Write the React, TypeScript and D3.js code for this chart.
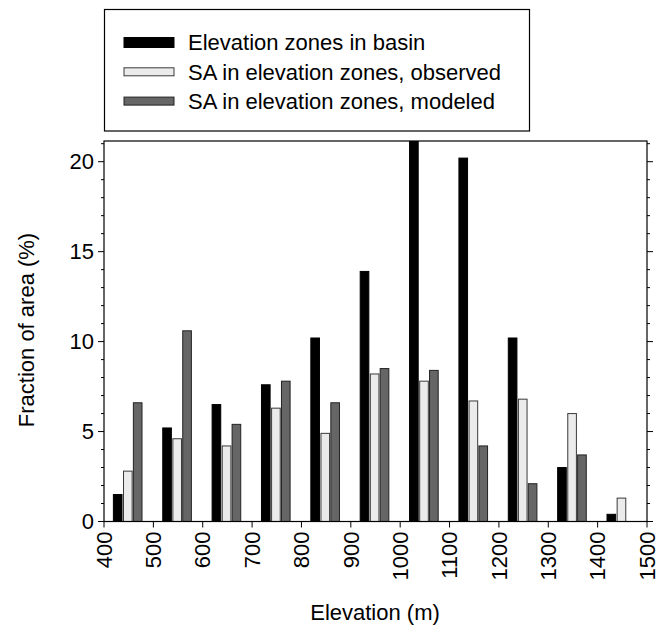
import React from "react";
import * as d3 from "d3";

const binStarts = [400, 500, 600, 700, 800, 900, 1000, 1100, 1200, 1300, 1400];
const basin = [1.5, 5.2, 6.5, 7.6, 10.2, 13.9, 21.4, 20.2, 10.2, 3.0, 0.4];
const observed = [2.8, 4.6, 4.2, 6.3, 4.9, 8.2, 7.8, 6.7, 6.8, 6.0, 1.3];
const modeled = [6.6, 10.6, 5.4, 7.8, 6.6, 8.5, 8.4, 4.2, 2.1, 3.7, 0];
const xTicks = [400, 500, 600, 700, 800, 900, 1000, 1100, 1200, 1300, 1400, 1500];
const yTicks = [0, 5, 10, 15, 20];
const seriesNames = [
  "Elevation zones in basin",
  "SA in elevation zones, observed",
  "SA in elevation zones, modeled",
];

const W = 666, H = 627;
const L = 104, R = 647, T = 141, B = 521.5;
const font = "Liberation Sans, Arial, sans-serif";

const styles = [
  { fill: "#000000", stroke: "#000000" },
  { fill: "#ebebeb", stroke: "#3a3a3a" },
  { fill: "#666666", stroke: "#222222" },
];

export default function App() {
  const x = d3.scaleLinear().domain([400, 1500]).range([L, R]);
  const y = d3.scaleLinear().domain([0, 21.15]).range([B, T]);
  const series = [basin, observed, modeled];
  const offsets = [19, 39.5, 59.5];
  const bw = 17.5;
  const minor = d3.range(0, 22);

  return (
    <svg width={W} height={H} style={{ position: "absolute", left: 0, top: 0 }} fontFamily={font}>
      <defs>
        <clipPath id="plotclip">
          <rect x={L} y={T} width={R - L} height={B - T} />
        </clipPath>
      </defs>
      <rect x={0} y={0} width={W} height={H} fill="#fff" />
      <g clipPath="url(#plotclip)">
        {series.map((vals, si) =>
          vals.map((v, i) =>
            v > 0 ? (
              <rect
                key={`${si}-${i}`}
                x={x(binStarts[i] + offsets[si])}
                y={y(v)}
                width={x(binStarts[i] + offsets[si] + bw) - x(binStarts[i] + offsets[si])}
                height={B - y(v)}
                fill={styles[si].fill}
                stroke={styles[si].stroke}
                strokeWidth={1}
              />
            ) : null
          )
        )}
      </g>
      <rect x={L} y={T} width={R - L} height={B - T} fill="none" stroke="#000" strokeWidth={1.2} />
      {minor.map((t) => (
        <line key={`l${t}`} x1={L} x2={L - (t % 5 === 0 ? 6 : 3)} y1={y(t)} y2={y(t)} stroke="#000" />
      ))}
      {minor.map((t) => (
        <line key={`r${t}`} x1={R} x2={R + (t % 5 === 0 ? 6 : 3)} y1={y(t)} y2={y(t)} stroke="#000" />
      ))}
      {yTicks.map((t) => (
        <text key={`yl${t}`} x={L - 10} y={y(t)} dy="0.35em" textAnchor="end" fontSize={22}>
          {t}
        </text>
      ))}
      {xTicks.map((t) => (
        <g key={`x${t}`}>
          <line x1={x(t)} x2={x(t)} y1={B} y2={B + 6} stroke="#000" />
          <text
            transform={`translate(${x(t)},${B + 10}) rotate(-90)`}
            textAnchor="end"
            dy="0.35em"
            fontSize={22}
          >
            {t}
          </text>
        </g>
      ))}
      <text x={375} y={620} textAnchor="middle" fontSize={22}>
        Elevation (m)
      </text>
      <text transform={`translate(34,330) rotate(-90)`} textAnchor="middle" fontSize={22}>
        Fraction of area (%)
      </text>
      <rect x={104.5} y={9.5} width={425} height={121.5} fill="#fff" stroke="#000" strokeWidth={1.2} />
      {seriesNames.map((n, i) => {
        const cy = 42.5 + i * 29.3;
        return (
          <g key={n}>
            <rect
              x={124}
              y={cy - (i === 0 ? 5 : 4)}
              width={50}
              height={i === 0 ? 10 : 8}
              fill={styles[i].fill}
              stroke={styles[i].stroke}
              strokeWidth={1}
            />
            <text x={188} y={cy} dy="0.35em" fontSize={22}>
              {n}
            </text>
          </g>
        );
      })}
    </svg>
  );
}
